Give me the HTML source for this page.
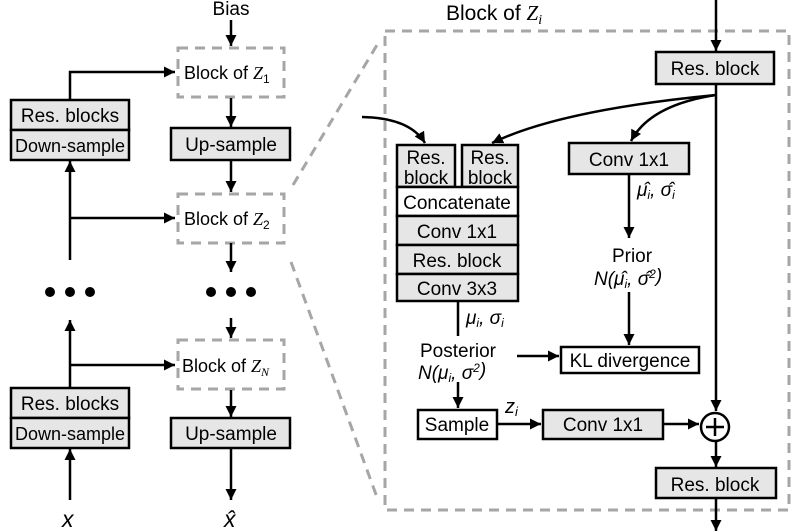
<!DOCTYPE html>
<html><head><meta charset="utf-8"><style>html,body{margin:0;padding:0;background:#fff}svg{display:block}text{font-family:"Liberation Sans",sans-serif;fill:#000}.m{font-family:"Liberation Serif",serif;font-style:italic}</style></head><body>
<svg width="796" height="531" viewBox="0 0 796 531" xmlns="http://www.w3.org/2000/svg">
<defs><marker id="a" viewBox="0 0 10 10" refX="10" refY="5" markerWidth="11" markerHeight="11" markerUnits="userSpaceOnUse" orient="auto"><path d="M0,0L10,5L0,10z" fill="#000"/></marker></defs>
<g fill="none" stroke="#a6a6a6" stroke-width="3" stroke-dasharray="10,7">
<rect x="178" y="48" width="106" height="49"/>
<rect x="178" y="194" width="106" height="49"/>
<rect x="178" y="340" width="106" height="49"/>
<rect x="385" y="31" width="404" height="479"/>
<line x1="293" y1="185" x2="380" y2="40"/>
<line x1="291" y1="262" x2="378" y2="500"/>
</g>
<g stroke="#000" stroke-width="2.5" fill="none">
<line x1="231" y1="20" x2="231" y2="46" marker-end="url(#a)"/>
<line x1="231" y1="98" x2="231" y2="127" marker-end="url(#a)"/>
<line x1="231" y1="160" x2="231" y2="192" marker-end="url(#a)"/>
<line x1="231" y1="243" x2="231" y2="272" marker-end="url(#a)"/>
<line x1="231" y1="318" x2="231" y2="338" marker-end="url(#a)"/>
<line x1="231" y1="390" x2="231" y2="417" marker-end="url(#a)"/>
<line x1="231" y1="448" x2="231" y2="500" marker-end="url(#a)"/>
<polyline points="70,100 70,72 175,72" marker-end="url(#a)"/>
<line x1="70" y1="260" x2="70" y2="161" marker-end="url(#a)"/>
<line x1="70" y1="218" x2="175" y2="218" marker-end="url(#a)"/>
<line x1="70" y1="388" x2="70" y2="320" marker-end="url(#a)"/>
<line x1="70" y1="365" x2="175" y2="365" marker-end="url(#a)"/>
<line x1="70" y1="500" x2="70" y2="449" marker-end="url(#a)"/>
<line x1="716" y1="0" x2="716" y2="51" marker-end="url(#a)"/>
<line x1="716" y1="84" x2="716" y2="411" marker-end="url(#a)"/>
<line x1="716" y1="442" x2="716" y2="467" marker-end="url(#a)"/>
<line x1="716" y1="498" x2="716" y2="531" marker-end="url(#a)"/>
<path d="M362,117 Q410,118 425,143" marker-end="url(#a)"/>
<path d="M716,95 Q560,110 492,143" marker-end="url(#a)"/>
<path d="M716,95 Q650,105 631,141" marker-end="url(#a)"/>
<line x1="629" y1="174" x2="629" y2="238" marker-end="url(#a)"/>
<line x1="629" y1="292" x2="629" y2="345" marker-end="url(#a)"/>
<line x1="458" y1="301" x2="458" y2="336"/>
<line x1="517" y1="356" x2="559" y2="356" marker-end="url(#a)"/>
<line x1="458" y1="382" x2="458" y2="408" marker-end="url(#a)"/>
<line x1="497" y1="424" x2="541" y2="424" marker-end="url(#a)"/>
<line x1="663" y1="424" x2="699" y2="424" marker-end="url(#a)"/>
</g>
<g stroke="#000" stroke-width="2.5" fill="#e6e6e6">
<rect x="11" y="100" width="118" height="30"/><rect x="11" y="130" width="118" height="30"/>
<rect x="171" y="128" width="119" height="32"/>
<rect x="11" y="388" width="118" height="30"/><rect x="11" y="418" width="118" height="30"/>
<rect x="171" y="418" width="119" height="30"/>
<rect x="656" y="52" width="118" height="32"/>
<rect x="397" y="145" width="58" height="42"/><rect x="462" y="145" width="56" height="42"/>
<rect x="397" y="187" width="121" height="29" fill="#fff"/>
<rect x="397" y="216" width="121" height="29"/><rect x="397" y="245" width="121" height="29"/><rect x="397" y="274" width="121" height="27"/>
<rect x="569" y="143" width="120" height="31"/>
<rect x="561" y="347" width="138" height="26" fill="#fff"/>
<rect x="418" y="410" width="79" height="29" fill="#fff"/>
<rect x="543" y="410" width="120" height="29"/>
<rect x="656" y="468" width="120" height="30"/>
<circle cx="715" cy="427" r="14" fill="#fff"/>
<line x1="706" y1="427" x2="724" y2="427"/><line x1="715" y1="418" x2="715" y2="436"/>
</g>
<g fill="#000"><circle cx="50" cy="292" r="5"/><circle cx="70" cy="292" r="5"/><circle cx="90" cy="292" r="5"/><circle cx="211" cy="292" r="5"/><circle cx="231" cy="292" r="5"/><circle cx="251" cy="292" r="5"/></g>
<g font-size="19" text-anchor="middle">
<text x="231" y="15">Bias</text>
<text x="70" y="122">Res. blocks</text><text x="70" y="152" font-size="18">Down-sample</text>
<text x="231" y="151">Up-sample</text>
<text x="70" y="410">Res. blocks</text><text x="70" y="440" font-size="18">Down-sample</text>
<text x="231" y="440">Up-sample</text>
<text x="715" y="75">Res. block</text>
<text x="426" y="164">Res.</text><text x="426" y="184">block</text>
<text x="490" y="164">Res.</text><text x="490" y="184">block</text>
<text x="457" y="209">Concatenate</text>
<text x="457" y="238">Conv 1x1</text>
<text x="457" y="267">Res. block</text>
<text x="457" y="295">Conv 3x3</text>
<text x="629" y="166">Conv 1x1</text>
<text x="630" y="367">KL divergence</text>
<text x="457" y="431">Sample</text>
<text x="603" y="431">Conv 1x1</text>
<text x="715" y="491">Res. block</text>
<text x="632" y="262">Prior</text>
<text x="458" y="357">Posterior</text>
</g>
<g font-size="18">
<text x="184" y="79">Block of <tspan class="m">Z</tspan><tspan font-size="12" dy="4">1</tspan></text>
<text x="184" y="225">Block of <tspan class="m">Z</tspan><tspan font-size="12" dy="4">2</tspan></text>
<text x="182" y="372">Block of <tspan class="m">Z</tspan><tspan class="m" font-size="12" dy="4">N</tspan></text>
</g>
<text x="446" y="20" font-size="21">Block of <tspan class="m">Z</tspan><tspan class="m" font-size="14" dy="4">i</tspan></text>
<g class="m" font-size="19">
<text x="637" y="196">μ̂<tspan font-size="12" dy="3">i</tspan><tspan dy="-3">, σ̂</tspan><tspan font-size="12" dy="3">i</tspan></text>
<text x="466" y="324">μ<tspan font-size="12" dy="3">i</tspan><tspan dy="-3">, σ</tspan><tspan font-size="12" dy="3">i</tspan></text>
<text x="594" y="285">N(μ̂<tspan font-size="12" dy="3">i</tspan><tspan dy="-3">, σ̂</tspan><tspan font-size="12" dy="-7">2</tspan><tspan dy="4">)</tspan></text>
<text x="418" y="379">N(μ<tspan font-size="12" dy="3">i</tspan><tspan dy="-3">, σ</tspan><tspan font-size="12" dy="-7">2</tspan><tspan dy="4">)</tspan></text>
<text x="505" y="413" font-size="20">z<tspan font-size="13" dy="3">i</tspan></text>
<text x="62" y="527" font-size="23">x</text>
<text x="224" y="527" font-size="23">x̂</text>
</g>
</svg>
</body></html>
